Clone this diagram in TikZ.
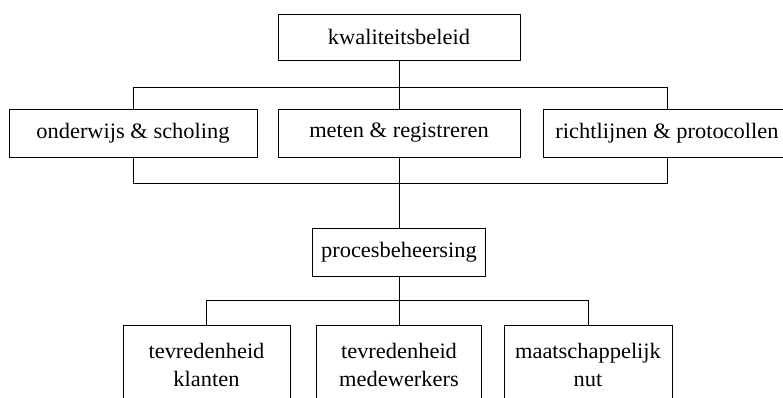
\documentclass[tikz,border=0pt]{standalone}
\usepackage{fontspec}
\setmainfont{Liberation Serif}[FakeStretch=1.02]
\begin{document}
\begin{tikzpicture}[x=1pt,y=1pt,
  box/.style={draw, line width=0.9pt, rectangle, inner sep=0pt, align=center,
    font=\fontsize{22}{28}\selectfont},
  conn/.style={line width=0.9pt}]
\useasboundingbox (0,0) rectangle (783,-397);
\clip (0,0) rectangle (783,-397);
% top
\node[box, minimum width=242, minimum height=46] (k) at (399,-37) {kwaliteitsbeleid};
\node[box, minimum width=248, minimum height=48] (onder) at (133,-133) {onderwijs \& scholing};
\node[box, minimum width=242, minimum height=48] (meten) at (399,-133) {meten \& registreren};
\node[box, minimum width=248, minimum height=48] (richt) at (667,-133) {richtlijnen \& protocollen};
\node[box, minimum width=173, minimum height=48] (proc) at (399,-252) {procesbeheersing};
\node[box, minimum width=167, minimum height=80] (tk) at (206.5,-365) {tevredenheid\\klanten};
\node[box, minimum width=165, minimum height=80] (tm) at (399,-365) {tevredenheid\\medewerkers};
\node[box, minimum width=168, minimum height=80] (mn) at (588,-365) {maatschappelijk\\nut};
\coordinate (h1) at (0,-87);
\coordinate (h2) at (0,-183);
\coordinate (h3) at (0,-300);
\draw[conn] (k.south) -- (meten.north);
\draw[conn] (onder.north) -- (onder.north |- h1) -- (richt.north |- h1) -- (richt.north);
\draw[conn] (onder.south) -- (onder.south |- h2) -- (richt.south |- h2) -- (richt.south);
\draw[conn] (meten.south) -- (proc.north);
\draw[conn] (tk.north) -- (tk.north |- h3) -- (mn.north |- h3) -- (mn.north);
\draw[conn] (proc.south) -- (tm.north);
\end{tikzpicture}
\end{document}
